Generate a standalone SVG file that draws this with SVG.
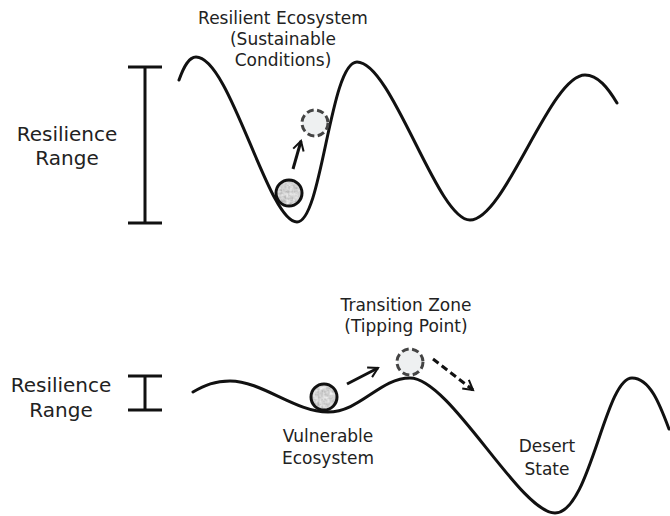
<svg xmlns="http://www.w3.org/2000/svg" width="670" height="516" viewBox="0 0 670 516">
<style>
text{font-family:"DejaVu Sans","Liberation Sans",sans-serif;fill:#222;text-anchor:middle}
.t{font-size:17px}
.l{font-size:20px}
.curve{fill:none;stroke:#111;stroke-width:3;stroke-linecap:round}
.bar{stroke:#111;stroke-width:3;fill:none}
.ball{fill:none;stroke:#111;stroke-width:3}
.tex{fill:#999;filter:url(#mottle)}
.ghost{fill:#eef0f1;stroke:#444;stroke-width:3;stroke-dasharray:7 3.5}
.arr{fill:none;stroke:#111;stroke-width:3;marker-end:url(#ah)}
.darr{fill:none;stroke:#111;stroke-width:3;stroke-dasharray:7 4;marker-end:url(#ah)}
</style>
<defs>
<filter id="mottle" x="0" y="0" width="1" height="1">
<feTurbulence type="fractalNoise" baseFrequency="0.3" numOctaves="2" seed="3" result="n"/>
<feColorMatrix in="n" type="matrix" values="0.4 0.4 0.4 0 0.05  0.4 0.4 0.4 0 0.05  0.4 0.4 0.4 0 0.05  0 0 0 0 1" result="g"/>
<feComposite in="g" in2="SourceGraphic" operator="in"/>
</filter>
<marker id="ah" viewBox="0 0 10 10" refX="8" refY="5" markerWidth="4.5" markerHeight="4.5" orient="auto" markerUnits="strokeWidth">
<path d="M1,1 L8,5 L1,9" fill="none" stroke="#111" stroke-width="1.5"/>
</marker>
</defs>
<g id="connectors">
<path class="curve" d="M179,80 C184,66 189,57 196,57 C230,57 268,222 297,222 C322,222 330,62 357,62 C392,62 437,220 470,220 C505,220 550,75 585,75 C598,75 608,88 617,103"/>
<path class="curve" d="M193,392 C205,385 215,381 230,381 C262,381 295,412 328,412 C360,412 380,378 410,378 C450,378 520,513 555,513 C590,513 605,378 632,378 C650,378 660,405 669,429"/>
<path class="arr" d="M293,169 L301,141"/>
<path class="arr" d="M347,384 L378,368"/>
<path class="darr" d="M433,359 L473,390"/>
</g>
<g id="range-top">
<path class="bar" d="M128,67 H162 M145,67 V223 M128,223 H162"/>
<text class="l" x="67" y="141">Resilience</text>
<text class="l" x="67" y="165">Range</text>
</g>
<g id="range-bottom">
<path class="bar" d="M128,376 H162 M145,376 V410 M128,410 H162"/>
<text class="l" x="61" y="392">Resilience</text>
<text class="l" x="61" y="417">Range</text>
</g>
<g id="resilient">
<text class="t" x="283" y="24">Resilient Ecosystem</text>
<text class="t" x="283" y="45">(Sustainable</text>
<text class="t" x="283" y="66">Conditions)</text>
</g>
<g id="ball-top"><circle class="tex" cx="289" cy="193" r="13"/><circle class="ball" cx="289" cy="193" r="13"/></g>
<g id="ghost-top"><circle class="ghost" cx="315" cy="123" r="13"/></g>
<g id="transition">
<text class="t" x="406" y="311">Transition Zone</text>
<text class="t" x="406" y="332">(Tipping Point)</text>
</g>
<g id="ball-bottom"><circle class="tex" cx="324" cy="397" r="13"/><circle class="ball" cx="324" cy="397" r="13"/></g>
<g id="ghost-bottom"><circle class="ghost" cx="410" cy="362" r="13"/></g>
<g id="vulnerable">
<text class="t" x="328" y="442">Vulnerable</text>
<text class="t" x="328" y="464">Ecosystem</text>
</g>
<g id="desert">
<text class="t" x="547" y="452">Desert</text>
<text class="t" x="547" y="475">State</text>
</g>
</svg>
